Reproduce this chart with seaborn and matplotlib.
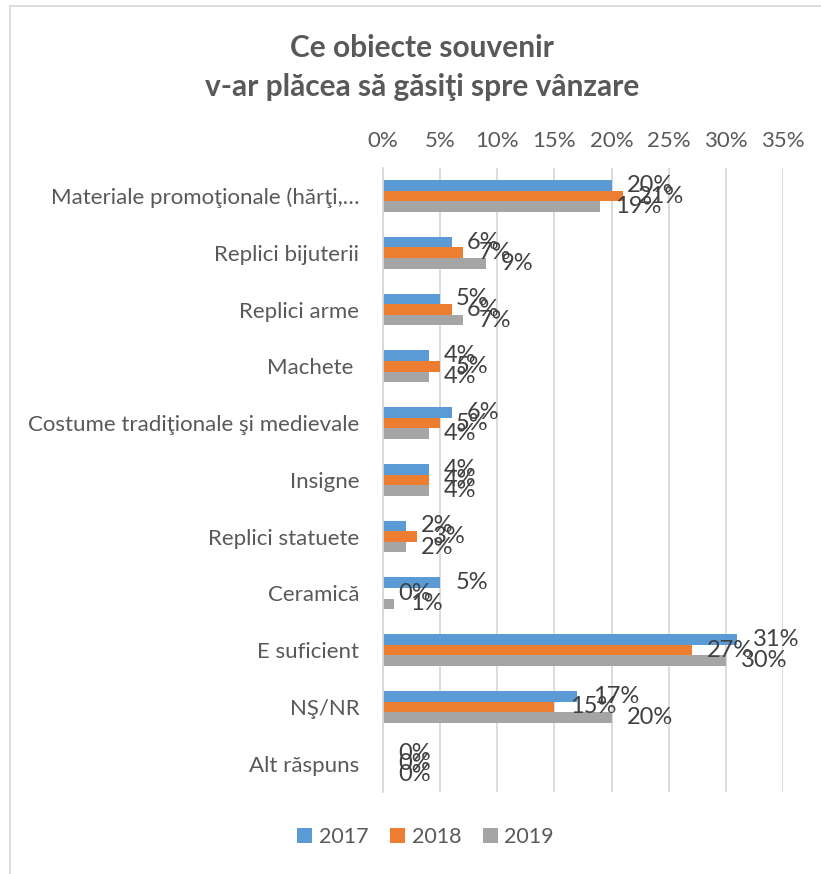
import matplotlib
matplotlib.use('Agg')
import pandas as pd
import matplotlib.pyplot as plt
import seaborn as sns
from matplotlib.patches import Rectangle
from matplotlib.ticker import PercentFormatter

# date (procente)
categorii = [
    'Materiale promoţionale (hărţi,…',
    'Replici bijuterii',
    'Replici arme',
    'Machete ',
    'Costume tradiţionale şi medievale',
    'Insigne',
    'Replici statuete',
    'Ceramică',
    'E suficient',
    'NŞ/NR',
    'Alt răspuns',
]
ani = ['2017', '2018', '2019']
val_2017 = [20, 6, 5, 4, 6, 4, 2, 5, 31, 17, 0]
val_2018 = [21, 7, 6, 5, 5, 4, 3, 0, 27, 15, 0]
val_2019 = [19, 9, 7, 4, 4, 4, 2, 1, 30, 20, 0]
culori = ['#5B9BD5', '#ED7D31', '#A5A5A5']

df = pd.DataFrame({
    'categorie': categorii * 3,
    'an': [a for a in ani for _ in categorii],
    'valoare': val_2017 + val_2018 + val_2019,
})

sns.set_style('white')
plt.rcParams['font.family'] = ['Lato', 'DejaVu Sans']

fig = plt.figure(figsize=(8.21, 8.74), dpi=100)
ax = fig.add_axes([0.4665, 0.0938, 0.4872, 0.7144])

sns.barplot(data=df, x='valoare', y='categorie', hue='an', orient='h',
            palette=culori, width=0.56, gap=0, ax=ax, saturation=1,
            linewidth=0)

for cont in ax.containers:
    ax.bar_label(cont, labels=[f'{v:.0f}%' for v in cont.datavalues],
                 padding=11, fontsize=17, color='#404040')

ax.set_xlim(0, 35)
ax.set_xticks(range(0, 36, 5))
ax.xaxis.set_major_formatter(PercentFormatter(decimals=0))
ax.xaxis.tick_top()
ax.tick_params(axis='x', length=0, pad=12, labelsize=16, labelcolor='#595959')
ax.tick_params(axis='y', length=0, pad=17, labelsize=16, labelcolor='#595959')
ax.grid(axis='x', color='#D9D9D9', linewidth=1.3)
ax.set_axisbelow(True)
for s in ['top', 'right', 'bottom']:
    ax.spines[s].set_visible(False)
ax.spines['left'].set_color('#D9D9D9')
ax.spines['left'].set_linewidth(1.3)
ax.set_xlabel('')
ax.set_ylabel('')

ax.legend(loc='center', bbox_to_anchor=(425.5 / 821, 1 - 837 / 874),
          bbox_transform=fig.transFigure, ncol=3, frameon=False,
          fontsize=15.5, handlelength=0.7, handleheight=0.65,
          handletextpad=0.3, columnspacing=1.0, labelcolor='#595959')

fig.text(422 / 821, 1 - 48 / 874, 'Ce obiecte souvenir', ha='center', va='center',
         fontsize=21.5, fontweight='bold', color='#595959')
fig.text(422 / 821, 1 - 87 / 874, 'v-ar plăcea să găsiţi spre vânzare', ha='center',
         va='center', fontsize=21.5, fontweight='bold', color='#595959')

# chenarul graficului
fig.patches.append(Rectangle((10 / 821, -0.1), 1.2, 1.1 - 6 / 874,
                             transform=fig.transFigure, fill=False,
                             edgecolor='#D9D9D9', linewidth=1.3))

fig.savefig('out.png', dpi=100)
